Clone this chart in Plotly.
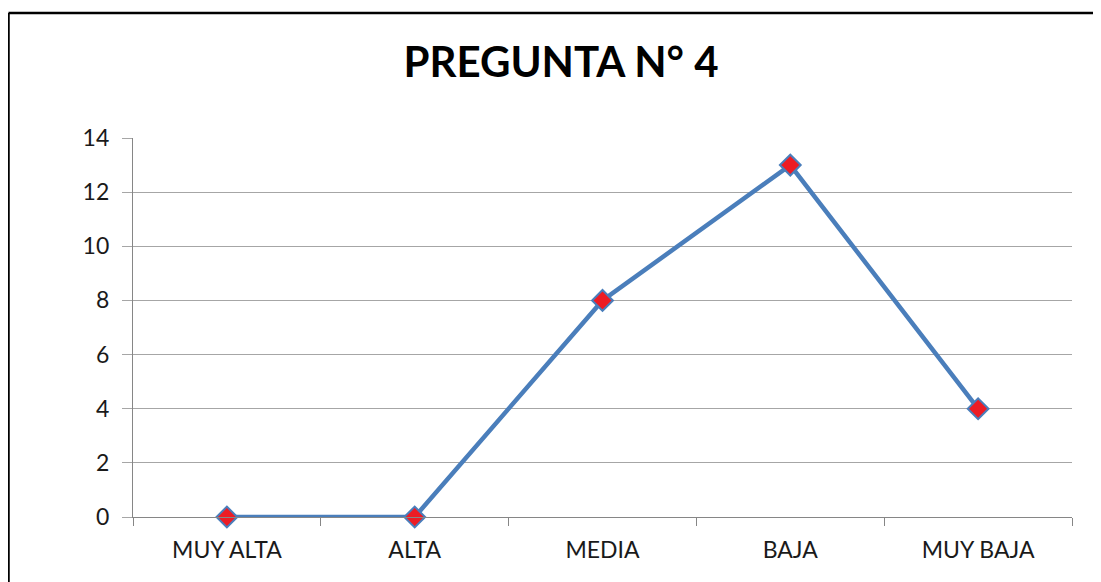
import plotly.graph_objects as go

categories = ["MUY ALTA", "ALTA", "MEDIA", "BAJA", "MUY BAJA"]
values = [0, 0, 8, 13, 4]
y_ticks = [0, 2, 4, 6, 8, 10, 12, 14]
title_text = "PREGUNTA N° 4"

# page has an 8px body margin, so the figure is drawn at (8, 8)
OFF = 8
W, H = 1101 - OFF, 582 - OFF
L, R, T, B = 133 - OFF, 29, 138 - OFF, 65
pw, ph = W - L - R, H - T - B

def px_x(p):
    return (p - OFF - L) / pw

def px_y(p):
    return (H - B - (p - OFF)) / ph

fig = go.Figure()
fig.add_trace(go.Scatter(
    x=categories, y=values, mode="lines+markers",
    line=dict(color="#4a7ebb", width=4.5),
    marker=dict(symbol="diamond", size=16, color="#ed1c24",
                line=dict(color="#4a7ebb", width=2)),
    showlegend=False, cliponaxis=False,
))

fig.update_layout(
    width=W, height=H,
    margin=dict(l=L, r=R, t=T, b=B),
    paper_bgcolor="white", plot_bgcolor="white",
    font=dict(family="Lato, Open Sans, sans-serif", color="#1a1a1a"),
    title=dict(text="<b>" + title_text + "</b>", x=(561 - OFF) / W, xanchor="center",
               y=1 - (62 - OFF) / H, yanchor="middle", yref="container",
               font=dict(size=42, color="black")),
    xaxis=dict(type="category", range=[-0.5, 4.5], showgrid=False,
               showline=True, linecolor="#868686", linewidth=1.3,
               ticks="outside", tickson="boundaries", ticklen=8,
               tickcolor="#868686", tickwidth=1.3,
               tickfont=dict(size=23, color="#1a1a1a"), ticklabelstandoff=12),
    yaxis=dict(range=[0, 14], tickvals=y_ticks, showgrid=True,
               gridcolor="#a6a6a6", gridwidth=1.3, zeroline=False,
               showline=True, linecolor="#868686", linewidth=1.3,
               ticks="outside", ticklen=10, tickcolor="#a6a6a6", tickwidth=1.3,
               tickfont=dict(size=23, color="#1a1a1a"), ticklabelstandoff=8),
)

# chart border (visible left and top edges)
bx, by = px_x(8.5), px_y(13)
fig.add_shape(type="line", xref="paper", yref="paper", x0=bx, x1=bx, y0=px_y(600), y1=by,
              line=dict(color="black", width=2.5), layer="above")
fig.add_shape(type="line", xref="paper", yref="paper", x0=bx, x1=px_x(1101), y0=by, y1=by,
              line=dict(color="black", width=2.5), layer="above")

fig.write_html("out.html", post_script="document.documentElement.style.overflow='hidden';document.body.style.overflow='hidden';")
